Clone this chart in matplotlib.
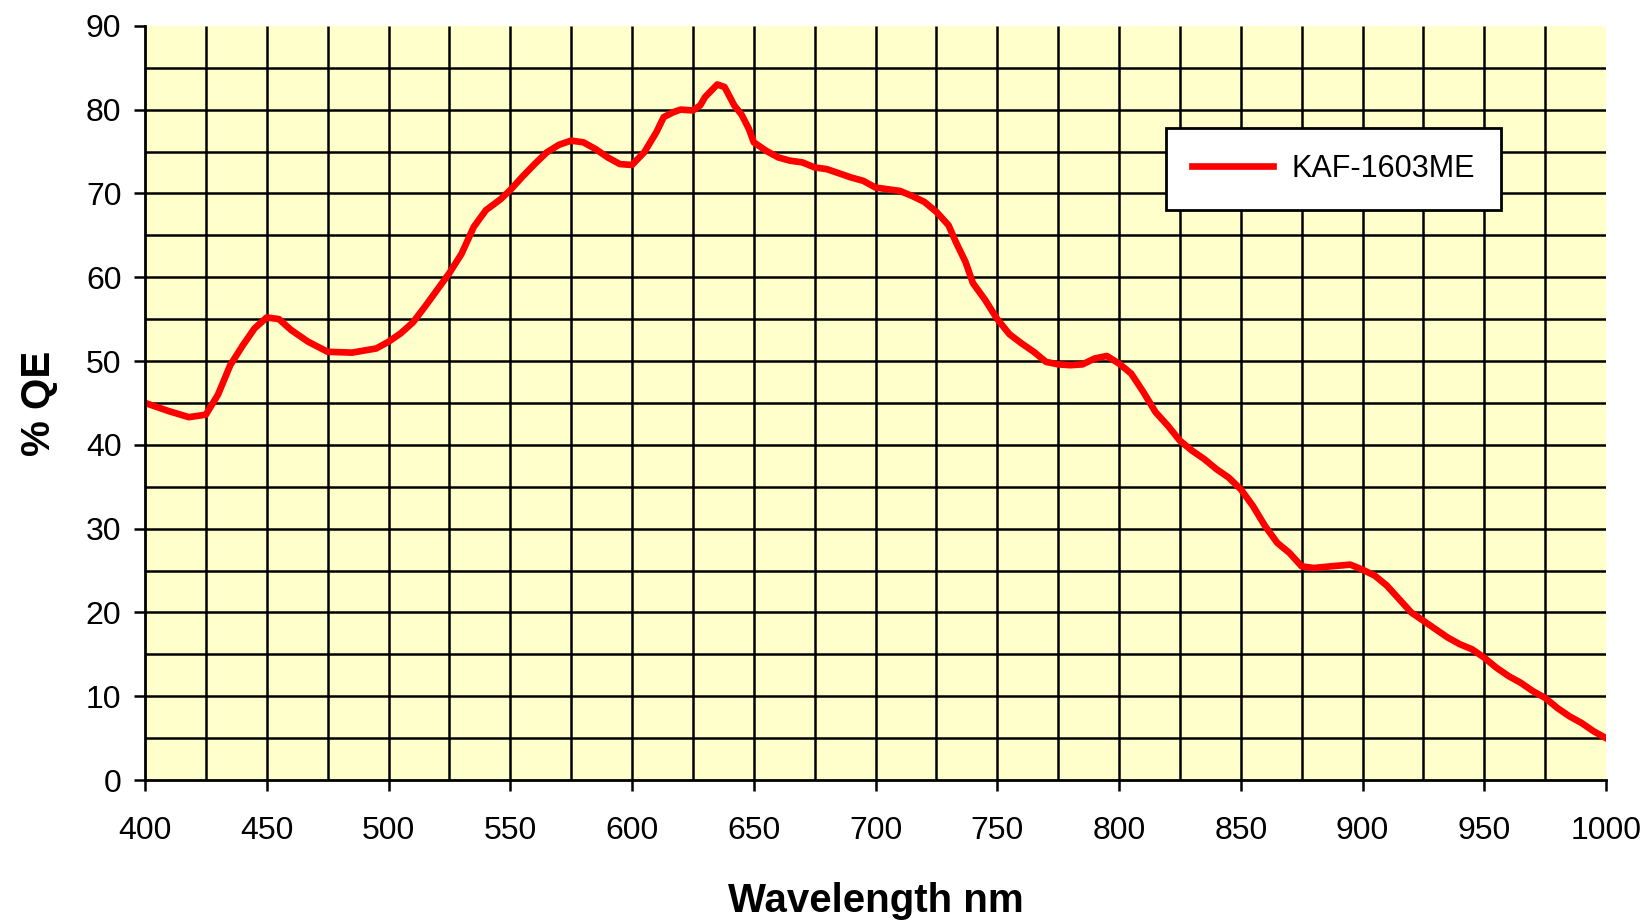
import numpy as np
import matplotlib
matplotlib.use("Agg")
import matplotlib.pyplot as plt

plt.rcParams["font.family"] = ["Liberation Sans", "DejaVu Sans"]

# KAF-1603ME quantum efficiency
wavelength = [400, 410, 418, 425, 430, 435, 440, 445, 450, 455, 460, 467, 475,
              485, 495, 500, 505, 510, 515, 520, 525, 530, 535, 540, 546,
              550, 555, 560, 565, 570, 575, 580, 585, 590, 595, 600, 605, 610,
              613, 617, 620, 625, 628, 630, 635, 638, 642, 645, 648, 650, 655,
              660, 665, 670, 675, 680, 685, 690, 695, 700, 705, 710, 715, 720,
              725, 730, 733, 737, 740, 745, 750, 755, 760, 765, 770, 775, 780,
              785, 790, 795, 800, 805, 810, 815, 820, 825, 830, 835, 840, 845,
              850, 855, 860, 865, 870, 875, 880, 887, 895, 900, 905, 910, 915,
              920, 925, 930, 935, 940, 945, 950, 955, 960, 965, 970, 975, 980,
              985, 990, 995, 1000]
qe = [45.0, 44.0, 43.3, 43.6, 46.0, 49.5, 51.8, 53.9, 55.2, 55.0, 53.7, 52.3, 51.1,
      51.0, 51.5, 52.3, 53.3, 54.6, 56.5, 58.5, 60.5, 62.8, 66.0, 68.0, 69.3,
      70.4, 72.0, 73.5, 74.9, 75.8, 76.3, 76.1, 75.3, 74.3, 73.5, 73.4, 74.9, 77.3,
      79.1, 79.7, 80.0, 79.9, 80.5, 81.5, 83.0, 82.7, 80.5, 79.4, 77.7, 76.1, 75.1,
      74.3, 73.9, 73.7, 73.1, 72.9, 72.4, 71.9, 71.5, 70.7, 70.5, 70.3, 69.7, 69.0,
      67.8, 66.2, 64.2, 61.8, 59.3, 57.3, 55.0, 53.2, 52.1, 51.1, 49.9, 49.6, 49.5,
      49.6, 50.3, 50.6, 49.7, 48.5, 46.3, 43.9, 42.3, 40.5, 39.3, 38.3, 37.1, 36.1,
      34.7, 32.7, 30.3, 28.3, 27.1, 25.5, 25.3, 25.5, 25.7, 25.1, 24.4, 23.2, 21.6,
      20.0, 19.0, 18.0, 17.0, 16.2, 15.6, 14.6, 13.4, 12.4, 11.6, 10.6, 9.8, 8.6,
      7.6, 6.8, 5.8, 5.0]
series_name = "KAF-1603ME"

x_ticks = np.arange(400, 1001, 50)
y_ticks = np.arange(0, 91, 10)

fig = plt.figure(figsize=(16.46, 9.22), dpi=100)
ax = fig.add_axes([0.0881, 0.154, 0.8876, 0.818])
ax.set_facecolor("#FFFFCC")
ax.set_xlim(400, 1000)
ax.set_ylim(0, 90)

# black grid every 25 nm / 5 %, not drawn on the top and right edges
ax.hlines(np.arange(5, 90, 5), 400, 1000, colors="black", lw=1.8, zorder=1)
ax.vlines(np.arange(425, 1000, 25), 0, 90, colors="black", lw=1.8, zorder=1)

ax.plot(wavelength, qe, color="#FF0000", lw=4.8, solid_joinstyle="round",
        label=series_name, zorder=3)

ax.set_xticks(x_ticks)
ax.set_yticks(y_ticks)
ax.tick_params(axis="both", direction="out", length=8, width=1.8,
               labelsize=23, color="black")
ax.tick_params(axis="y", pad=9)
ax.tick_params(axis="x", pad=18)

for side in ("top", "right"):
    ax.spines[side].set_visible(False)
for side in ("left", "bottom"):
    ax.spines[side].set_linewidth(2)
    ax.spines[side].set_zorder(4)

ax.set_xlabel("Wavelength nm", fontsize=29, fontweight="bold", labelpad=26)
ax.set_ylabel("% QE", fontsize=29, fontweight="bold", labelpad=20)

leg = ax.legend(loc="upper left", bbox_to_anchor=(0.699, 0.865),
                borderaxespad=0, fontsize=22, handlelength=2.65,
                handletextpad=0.6, borderpad=0.85, fancybox=False,
                framealpha=1, facecolor="white", edgecolor="black")
leg.get_frame().set_linewidth(2)
leg.set_zorder(5)

fig.savefig("out.png", dpi=100)
